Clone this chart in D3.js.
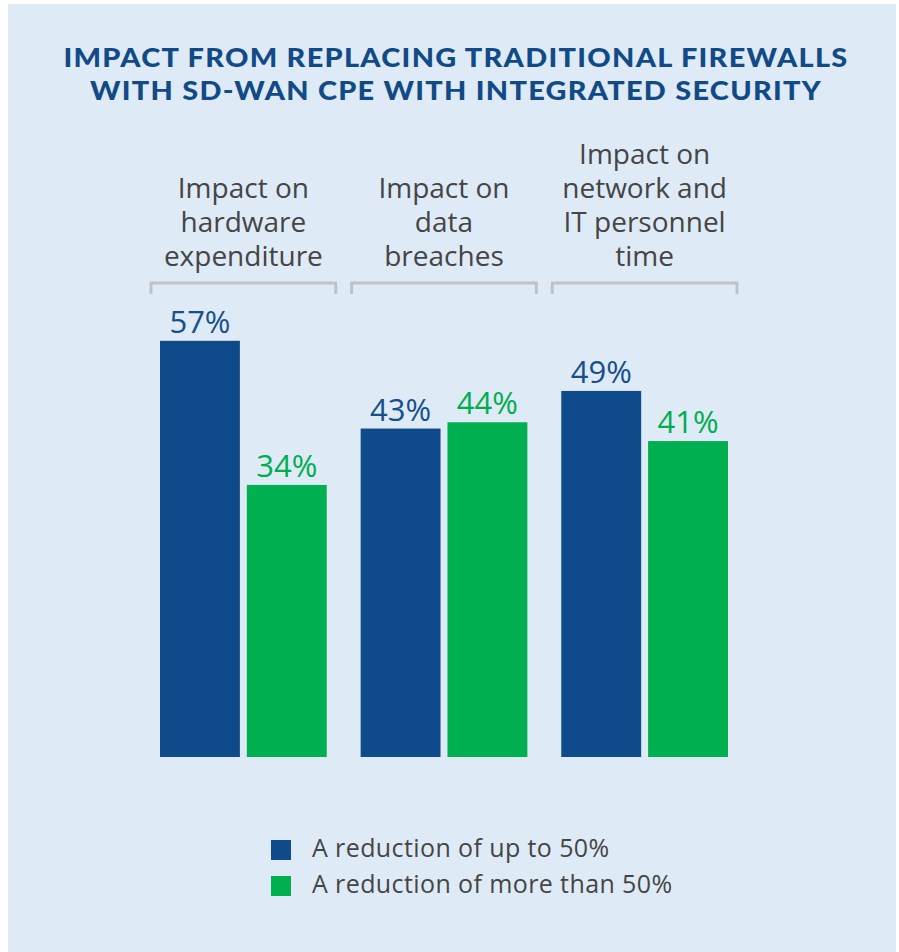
<!DOCTYPE html>
<html>
<head>
<meta charset="utf-8">
<script src="https://cdn.jsdelivr.net/npm/d3@7"></script>
<style>
  html, body { margin: 0; padding: 0; background: #ffffff; }
  svg { display: block; }
</style>
</head>
<body>
<svg id="chart" width="899" height="952"></svg>
<script>
// Chart data
const categories = ["hardware", "breaches", "personnel"];
const categoryLabels = [
  ["Impact on", "hardware", "expenditure"],
  ["Impact on", "data", "breaches"],
  ["Impact on", "network and", "IT personnel", "time"]
];
const seriesNames = ["A reduction of up to 50%", "A reduction of more than 50%"];
const upTo50 = [57, 43, 49];
const moreThan50 = [34, 44, 41];
const titleLines = [
  "IMPACT FROM REPLACING TRADITIONAL FIREWALLS",
  "WITH SD-WAN CPE WITH INTEGRATED SECURITY"
];

const colors = ["#0f4b8a", "#00b050"];
const labelColors = ["#174f8c", "#00ad4e"];
const textColor = "#454545";
const bodyFont = "'Open Sans', Lato, sans-serif";

const svg = d3.select("#chart");
const W = 899, H = 952;

// panel background
svg.append("rect")
  .attr("x", 8).attr("y", 4)
  .attr("width", 888).attr("height", H)
  .attr("fill", "#deebf7");

// title
svg.append("g").selectAll("text")
  .data(titleLines)
  .join("text")
  .attr("x", 456)
  .attr("y", (d, i) => 67 + i * 33)
  .attr("text-anchor", "middle")
  .attr("font-family", "Lato, 'Open Sans', sans-serif")
  .attr("font-weight", 900)
  .attr("font-size", 27)
  .attr("letter-spacing", 1.2)
  .attr("fill", "#114a86")
  .attr("textLength", (d, i) => i === 0 ? 785 : 732)
  .attr("lengthAdjust", "spacingAndGlyphs")
  .text(d => d);

// scales
const baseline = 757;
const x0 = d3.scaleBand()
  .domain(categories)
  .range([160, 728])
  .paddingInner(0.169)
  .paddingOuter(0);

const x1 = d3.scaleBand()
  .domain([0, 1])
  .range([0, x0.bandwidth()])
  .paddingInner(0.08);

const y = d3.scaleLinear()
  .domain([0, 60])
  .range([698, 322]);

const rows = categories.map((c, i) => ({
  cat: c,
  values: [upTo50[i], moreThan50[i]],
  label: categoryLabels[i]
}));

const groups = svg.append("g").selectAll("g")
  .data(rows)
  .join("g")
  .attr("transform", d => `translate(${x0(d.cat)},0)`);

// bars
groups.selectAll("rect")
  .data(d => d.values.map((v, s) => ({ v, s })))
  .join("rect")
  .attr("x", d => x1(d.s))
  .attr("y", d => y(d.v))
  .attr("width", x1.bandwidth())
  .attr("height", d => baseline - y(d.v))
  .attr("fill", d => colors[d.s]);

// value labels
groups.selectAll("text.val")
  .data(d => d.values.map((v, s) => ({ v, s })))
  .join("text")
  .attr("class", "val")
  .attr("x", d => x1(d.s) + x1.bandwidth() / 2)
  .attr("y", d => y(d.v) - 8)
  .attr("text-anchor", "middle")
  .attr("font-family", bodyFont)
  .attr("font-size", 31)
  .attr("fill", d => labelColors[d.s])
  .text(d => d.v + "%");

// bracket over each group
const ext = 9;
groups.append("path")
  .attr("d", () => {
    const l = -ext, r = x0.bandwidth() + ext;
    return `M${l},294 V283 H${r} V294`;
  })
  .attr("fill", "none")
  .attr("stroke", "#c2c2c2")
  .attr("stroke-width", 3);

// category labels: one multi-line text per group, bottom-aligned above the bracket
const lineStep = 34;
groups.append("text")
  .attr("class", "cat")
  .attr("text-anchor", "middle")
  .attr("font-family", bodyFont)
  .attr("font-size", 28)
  .attr("fill", textColor)
  .each(function (d) {
    const n = d.label.length;
    d3.select(this).selectAll("tspan")
      .data(d.label)
      .join("tspan")
      .attr("x", x0.bandwidth() / 2)
      .attr("y", (t, i) => 266 - (n - 1 - i) * lineStep)
      .text(t => t);
  });

// legend
const legend = svg.append("g").selectAll("g")
  .data(seriesNames)
  .join("g")
  .attr("transform", (d, i) => `translate(271,${840 + i * 36})`);

legend.append("rect")
  .attr("width", 20).attr("height", 20)
  .attr("fill", (d, i) => colors[i]);

legend.append("text")
  .attr("x", 41)
  .attr("y", 17)
  .attr("font-family", bodyFont)
  .attr("font-size", 25)
  .attr("letter-spacing", 0.4)
  .attr("fill", textColor)
  .text(d => d);
</script>
</body>
</html>
